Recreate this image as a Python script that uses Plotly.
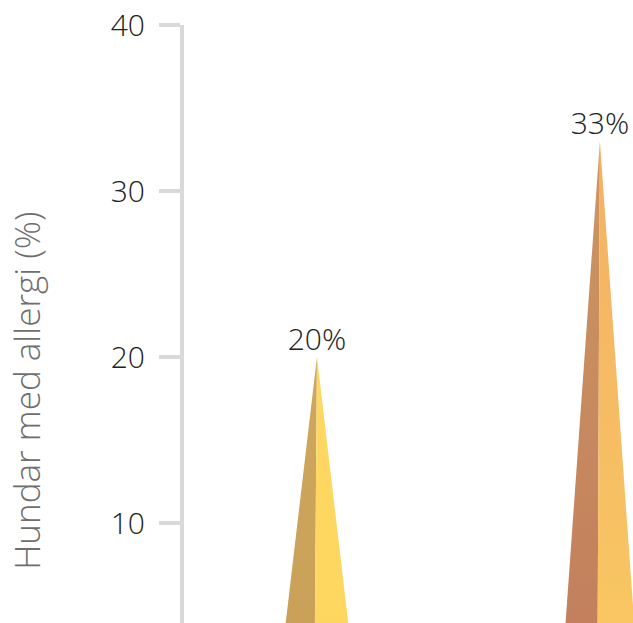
import plotly.graph_objects as go

# Share of dogs with allergy, per group
categories = ["Grupp A", "Grupp B"]
values = [20, 33]
value_labels = ["20%", "33%"]
y_title = "Hundar med allergi (%)"

# Two-tone shading per spike: (left face bottom, left face top, right face bottom, right face top)
face_colors = [
    ("#c99f59", "#cfa75c", "#fdd65f", "#fdd862"),
    ("#c27c5c", "#cc9761", "#f9c962", "#f3b065"),
]

base_half_width = 0.138   # half width of each spike at y = 0 (x units)
ridge_offset = -0.009     # ridge of the spike leans slightly left at the base
base_y = 0

fig = go.Figure()

for i, (cat, val) in enumerate(zip(categories, values)):
    lb, lt, rb, rt = face_colors[i]
    xc = i
    ridge_x = xc + ridge_offset
    # left face
    fig.add_trace(go.Scatter(
        x=[xc - base_half_width, ridge_x, xc, xc - base_half_width],
        y=[base_y, base_y, val, base_y],
        mode="lines", line=dict(width=0), fill="toself",
        fillgradient=dict(type="vertical", colorscale=[[0, lb], [1, lt]],
                          start=base_y, stop=val),
        hoverinfo="skip", showlegend=False,
    ))
    # right face
    fig.add_trace(go.Scatter(
        x=[ridge_x, xc + base_half_width, xc, ridge_x],
        y=[base_y, base_y, val, base_y],
        mode="lines", line=dict(width=0), fill="toself",
        fillgradient=dict(type="vertical", colorscale=[[0, rb], [1, rt]],
                          start=base_y, stop=val),
        hoverinfo="skip", showlegend=False,
    ))

# value labels above the spike tips
fig.add_trace(go.Scatter(
    x=list(range(len(categories))), y=values, mode="text",
    text=value_labels, textposition="top center",
    textfont=dict(family="Open Sans", size=30, color="#222222", weight=300),
    hoverinfo="skip", showlegend=False, cliponaxis=False,
))

fig.update_layout(
    width=633, height=623,
    margin=dict(l=184, r=0, t=25, b=0),
    paper_bgcolor="white", plot_bgcolor="white",
    font=dict(family="Open Sans", color="#222222", weight=300),
    showlegend=False,
)

# rotated y-axis title, placed beside the lower part of the axis
fig.add_annotation(
    text=y_title, textangle=-90,
    xref="paper", yref="paper", x=-0.350, y=0.388,
    xanchor="center", yanchor="middle", showarrow=False,
    font=dict(family="Open Sans", size=35, color="#6e6e6e", weight=300),
)

fig.update_xaxes(
    range=[-0.47, 1.117], visible=False, showgrid=False, zeroline=False,
)
fig.update_yaxes(
    range=[3.976, 40], tickvals=[10, 20, 30, 40],
    showgrid=False, zeroline=False,
    showline=True, linecolor="#d9d9d9", linewidth=4,
    ticks="outside", ticklen=21, tickwidth=4, tickcolor="#d9d9d9",
    ticklabelstandoff=8,
    tickfont=dict(family="Open Sans", size=30, color="#222222", weight=300),
)

fig.write_html("out.html")
